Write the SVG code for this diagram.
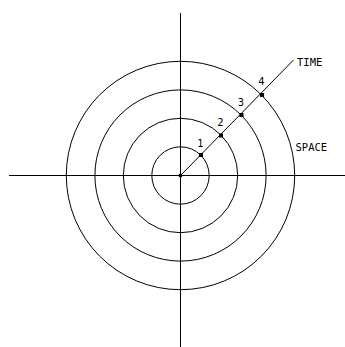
<svg xmlns="http://www.w3.org/2000/svg" width="345" height="347" viewBox="0 0 345 347">
<style>
.ln{stroke:#000;stroke-width:1;fill:none}
.dot{fill:#000}
.lbl{font-family:"DejaVu Sans Mono","Liberation Mono",monospace;font-size:10.5px;fill:#000}
.num{font-family:"DejaVu Sans","Liberation Sans",sans-serif;font-size:10px;fill:#000;text-anchor:middle}
</style>
<rect width="345" height="347" fill="#fff"/>
<g id="connectors">
<line class="ln" x1="180.5" y1="13" x2="180.5" y2="347"/>
<line class="ln" x1="9" y1="175.5" x2="345" y2="175.5"/>
<line class="ln" x1="180.5" y1="175.5" x2="293.5" y2="60"/>
</g>
<g id="rings">
<circle class="ln" cx="180.5" cy="175.5" r="28.7"/>
<circle class="ln" cx="180.5" cy="175.5" r="57.2"/>
<circle class="ln" cx="180.5" cy="175.5" r="85.6"/>
<circle class="ln" cx="180.5" cy="175.5" r="114.2"/>
</g>
<g id="origin"><circle class="dot" cx="180.5" cy="175.5" r="2"/></g>
<g id="p1"><rect class="dot" x="199" y="153" width="4" height="4"/><text class="num" x="200.5" y="147">1</text></g>
<g id="p2"><rect class="dot" x="219" y="133.5" width="4" height="4"/><text class="num" x="220.5" y="126">2</text></g>
<g id="p3"><rect class="dot" x="239.5" y="113" width="4" height="4"/><text class="num" x="241" y="106">3</text></g>
<g id="p4"><rect class="dot" x="260" y="93" width="4" height="4"/><text class="num" x="261.5" y="85">4</text></g>
<g id="time"><text class="lbl" x="297" y="65.5">TIME</text></g>
<g id="space"><text class="lbl" x="295.5" y="150.5">SPACE</text></g>
</svg>
